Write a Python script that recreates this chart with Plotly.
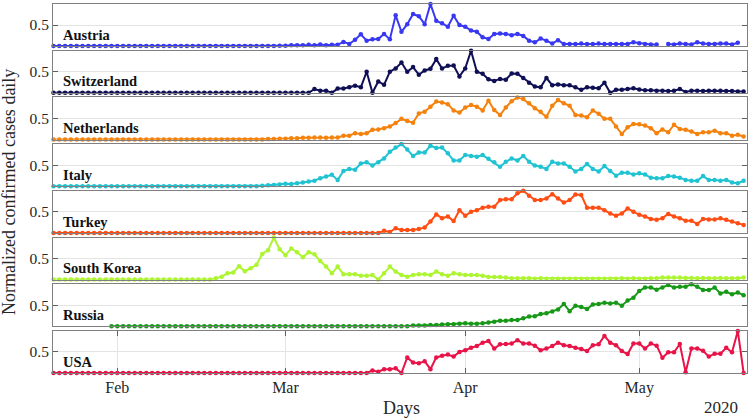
import pandas as pd
import plotly.graph_objects as go
from plotly.subplots import make_subplots

dates = pd.date_range("2020-01-21", periods=120, freq="D")

countries = ["Austria", "Switzerland", "Netherlands", "Italy", "Turkey",
             "South Korea", "Russia", "USA"]

austria = ([0] * 39 +
           [0.01, 0.01, 0.02, 0.02, 0.02, 0.03, 0.02, 0.04, 0.02, 0.03,
            0.03, 0.10, 0.05, 0.15, 0.28, 0.13, 0.16, 0.17, 0.29, 0.16,
            0.73, 0.34, 0.52, 0.76, 0.71, 0.52, 1.00, 0.60, 0.54, 0.46,
            0.72, 0.50, 0.46, 0.37, 0.34, 0.21, 0.17, 0.29, 0.30, 0.29,
            0.26, 0.29, 0.24, 0.13, 0.09, 0.18, 0.13, 0.06, 0.14, 0.05,
            0.05, 0.05, 0.06, 0.05, 0.05, 0.06, 0.05, 0.05, 0.05, 0.05,
            0.05, 0.09, 0.07, 0.05, 0.04, 0.04, None, 0.05, 0.04, 0.06,
            0.05, 0.04, 0.09, 0.06, 0.05, 0.05, 0.06, 0.06, 0.04, 0.08])

switzerland = ([0] * 45 +
               [0.09, 0.05, 0.05, 0.00, 0.10, 0.10, 0.13, 0.17, 0.13, 0.50,
                0.00, 0.27, 0.19, 0.50, 0.58, 0.72, 0.50, 0.61, 0.43, 0.53,
                0.57, 0.80, 0.58, 0.64, 0.65, 0.39, 0.58, 1.00, 0.50, 0.45,
                0.32, 0.28, 0.33, 0.31, 0.46, 0.45, 0.35, 0.24, 0.15, 0.13,
                0.35, 0.18, 0.20, 0.18, 0.18, 0.13, 0.07, 0.13, 0.12, 0.11,
                0.24, 0.00, 0.07, 0.07, 0.09, 0.11, 0.08, 0.06, 0.06, 0.05,
                0.05, 0.04, 0.05, 0.09, 0.02, 0.05, 0.05, 0.04, 0.05, 0.05,
                0.05, 0.04, 0.04, 0.03, 0.03])

netherlands = ([0] * 37 +
               [0.01, 0.01, 0.02, 0.02, 0.03, 0.03, 0.04, 0.04, 0.05, 0.05,
                0.04, 0.05, 0.05, 0.09, 0.09, 0.15, 0.13, 0.15, 0.23, 0.24,
                0.27, 0.31, 0.39, 0.49, 0.44, 0.40, 0.62, 0.66, 0.78, 0.90,
                0.88, 0.84, 0.69, 0.64, 0.76, 0.82, 0.78, 0.69, 0.92, 0.70,
                0.58, 0.76, 0.91, 1.00, 0.96, 0.86, 0.74, 0.66, 0.54, 0.80,
                0.94, 0.86, 0.80, 0.58, 0.57, 0.53, 0.69, 0.61, 0.49, 0.49,
                0.31, 0.13, 0.29, 0.37, 0.36, 0.33, 0.27, 0.15, 0.24, 0.17,
                0.35, 0.25, 0.23, 0.19, 0.13, 0.17, 0.17, 0.21, 0.15, 0.15,
                0.09, 0.11, 0.07])

italy = ([0] * 36 +
         [0.01, 0.02, 0.03, 0.04, 0.06, 0.05, 0.07, 0.09, 0.11, 0.13,
          0.19, 0.23, 0.27, 0.15, 0.36, 0.41, 0.39, 0.54, 0.57, 0.49,
          0.57, 0.66, 0.82, 0.92, 1.00, 0.87, 0.72, 0.80, 0.80, 0.96,
          0.91, 0.92, 0.78, 0.61, 0.61, 0.74, 0.72, 0.70, 0.74, 0.65,
          0.57, 0.46, 0.58, 0.66, 0.61, 0.72, 0.58, 0.49, 0.46, 0.41,
          0.58, 0.54, 0.54, 0.46, 0.35, 0.41, 0.53, 0.41, 0.35, 0.48,
          0.36, 0.25, 0.32, 0.32, 0.28, 0.31, 0.28, 0.20, 0.19, 0.19,
          0.24, 0.23, 0.20, 0.15, 0.13, 0.13, 0.24, 0.15, 0.15, 0.13,
          0.15, 0.09, 0.07, 0.13])

turkey = ([0] * 57 +
          [0.05, 0.02, 0.11, 0.07, 0.07, 0.07, 0.09, 0.13, 0.27, 0.44,
           0.35, 0.39, 0.28, 0.54, 0.41, 0.50, 0.54, 0.60, 0.62, 0.62,
           0.78, 0.80, 0.80, 0.94, 1.00, 0.88, 0.78, 0.78, 0.82, 0.92,
           0.82, 0.72, 0.78, 0.91, 0.90, 0.60, 0.60, 0.60, 0.54, 0.46,
           0.41, 0.46, 0.58, 0.50, 0.43, 0.39, 0.33, 0.31, 0.35, 0.45,
           0.39, 0.35, 0.29, 0.29, 0.21, 0.33, 0.32, 0.32, 0.35, 0.31,
           0.27, 0.23, 0.19])

south_korea = ([0] * 28 +
               [0.03, 0.07, 0.15, 0.17, 0.32, 0.20, 0.27, 0.35, 0.61, 0.70,
                1.00, 0.72, 0.58, 0.74, 0.65, 0.53, 0.65, 0.60, 0.44, 0.31,
                0.15, 0.31, 0.13, 0.13, 0.13, 0.09, 0.09, 0.11, 0.00, 0.15,
                0.31, 0.19, 0.11, 0.07, 0.11, 0.13, 0.13, 0.11, 0.19, 0.13,
                0.09, 0.15, 0.13, 0.11, 0.11, 0.11, 0.09, 0.06, 0.06, 0.06,
                0.05, 0.03, 0.03, 0.03, 0.03, 0.02, 0.03, 0.02, 0.02, 0.02,
                0.02, 0.02, 0.02, 0.02, 0.02, 0.02, 0.02, 0.02, 0.02, 0.02,
                0.03, 0.02, 0.03, 0.02, 0.02, 0.03, 0.03, 0.05, 0.05, 0.05,
                0.05, 0.04, 0.04, 0.03, 0.04, 0.03, 0.03, 0.04, 0.03, 0.03,
                0.03, 0.05])

russia = ([None] * 10 + [0] * 52 +
          [0.02, 0.02, 0.02, 0.03, 0.03, 0.04, 0.05, 0.05, 0.06, 0.07,
           0.06, 0.06, 0.07, 0.09, 0.11, 0.13, 0.13, 0.15, 0.15, 0.19,
           0.23, 0.24, 0.29, 0.31, 0.35, 0.40, 0.53, 0.36, 0.49, 0.46,
           0.41, 0.52, 0.53, 0.56, 0.54, 0.56, 0.49, 0.61, 0.68, 0.84,
           0.92, 0.92, 0.87, 0.92, 0.98, 0.92, 0.94, 0.94, 1.00, 0.94,
           0.86, 0.86, 0.92, 0.78, 0.82, 0.76, 0.80, 0.74])

usa = ([0] * 55 +
       [0.06, 0.03, 0.09, 0.09, 0.11, 0.00, 0.37, 0.25, 0.23, 0.28,
        0.09, 0.37, 0.41, 0.44, 0.39, 0.50, 0.54, 0.60, 0.64, 0.72,
        0.76, 0.58, 0.68, 0.69, 0.70, 0.78, 0.70, 0.70, 0.65, 0.54,
        0.58, 0.64, 0.72, 0.66, 0.64, 0.60, 0.57, 0.52, 0.66, 0.68,
        0.88, 0.72, 0.66, 0.52, 0.45, 0.70, 0.70, 0.58, 0.70, 0.65,
        0.36, 0.49, 0.49, 0.69, 0.02, 0.58, 0.58, 0.53, 0.39, 0.46,
        0.46, 0.60, 0.49, 1.00, 0.00])

series = [austria, switzerland, netherlands, italy, turkey,
          south_korea, russia, usa]
colors = ["#3838f2", "#0f0f55", "#f5820d", "#1fc3d2", "#ff4d14",
          "#adf530", "#179917", "#e81448"]

tick_dates = ["2020-02-01", "2020-03-01", "2020-04-01", "2020-05-01"]
tick_text = ["Feb", "Mar", "Apr", "May"]

FONT = "Liberation Serif"
n = len(countries)
plot_h = 369.0
gap = 4.6
fig = make_subplots(rows=n, cols=1, shared_xaxes=True,
                    vertical_spacing=gap / plot_h)

for i, (name, vals, col) in enumerate(zip(countries, series, colors), start=1):
    fig.add_trace(go.Scatter(
        x=dates, y=vals, mode="lines+markers", name=name,
        line=dict(color=col, width=2),
        marker=dict(color=col, size=4.5),
        cliponaxis=False, connectgaps=False, showlegend=False,
    ), row=i, col=1)
    fig.update_yaxes(range=[0, 1], tickvals=[0.5], ticktext=["0.5"],
                     ticks="inside", ticklen=5, tickcolor="#606060",
                     showline=True, linecolor="#808080", linewidth=1,
                     mirror="ticks", showgrid=True, gridcolor="#e4e4e4",
                     zeroline=False, fixedrange=True,
                     tickfont=dict(family=FONT, size=15.5, color="#262626"),
                     row=i, col=1)
    last = (i == n)
    fig.update_xaxes(range=["2020-01-20 22:00", "2020-05-19 14:00"],
                     tickvals=tick_dates, ticktext=tick_text,
                     showticklabels=last,
                     ticks="inside" if last else "", ticklen=5,
                     tickcolor="#606060",
                     showline=True, linecolor="#808080", linewidth=1,
                     mirror="ticks" if last else True,
                     showgrid=last, gridcolor="#e4e4e4", zeroline=False,
                     tickfont=dict(family=FONT, size=16, color="#262626"),
                     row=i, col=1)
    xr = "x domain" if i == 1 else f"x{i} domain"
    yr = "y domain" if i == 1 else f"y{i} domain"
    fig.add_annotation(xref=xr, yref=yr, x=0.0115, y=0.27,
                       xanchor="left", yanchor="middle", showarrow=False,
                       text=f"<b>{name}</b>",
                       font=dict(family=FONT, size=14.5, color="#111111"))

fig.add_annotation(xref="paper", yref="paper", x=(402 - 53) / 694.5,
                   y=-(408 - 373) / plot_h, xanchor="center", yanchor="middle",
                   showarrow=False, text="Days",
                   font=dict(family=FONT, size=18, color="#262626"))
fig.add_annotation(xref="paper", yref="paper", x=(721 - 53) / 694.5,
                   y=-(407 - 373) / plot_h, xanchor="center", yanchor="middle",
                   showarrow=False, text="2020",
                   font=dict(family=FONT, size=17, color="#262626"))
fig.add_annotation(xref="paper", yref="paper", x=(9 - 53) / 694.5,
                   y=(373 - 192) / plot_h, xanchor="center", yanchor="middle",
                   textangle=-90, showarrow=False,
                   text="Normalized confirmed cases daily",
                   font=dict(family=FONT, size=18, color="#262626"))

fig.update_layout(width=752, height=420,
                  margin=dict(l=53, r=5, t=4, b=47, pad=0),
                  plot_bgcolor="white", paper_bgcolor="white",
                  font=dict(family=FONT))

fig.write_html("out.html",
               config={"displayModeBar": False},
               post_script="document.body.style.margin='0px';"
                           "document.body.style.padding='0px';")
